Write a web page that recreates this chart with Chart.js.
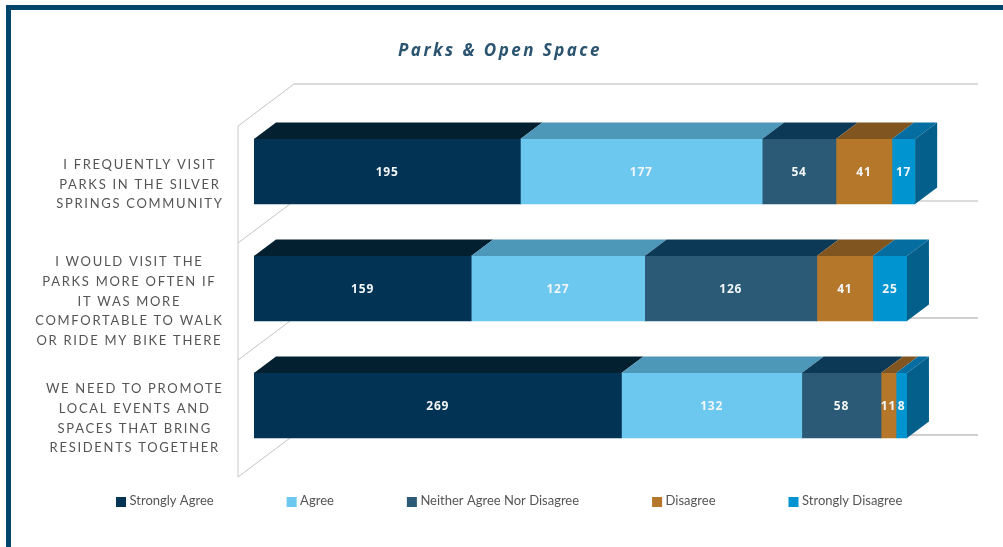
<!DOCTYPE html>
<html>
<head>
<meta charset="utf-8">
<script src="https://cdn.jsdelivr.net/npm/chart.js@4"></script>
<style>
html,body{margin:0;padding:0;background:#fff;overflow:hidden}
#wrap{position:absolute;left:0;top:0;width:1003px;height:547px}
canvas{position:absolute;left:0;top:0}
#frame{position:absolute;left:6px;top:5px;right:0;bottom:0;border-left:5px solid #03466b;border-top:5px solid #03466b;pointer-events:none}
</style>
</head>
<body>
<div id="wrap"><canvas id="c" width="1003" height="547"></canvas><div id="frame"></div></div>
<script>
const titleText = "Parks & Open Space";
const categories = [
  ["I FREQUENTLY VISIT","PARKS IN THE SILVER","SPRINGS COMMUNITY"],
  ["I WOULD VISIT THE","PARKS MORE OFTEN IF","IT WAS MORE","COMFORTABLE TO WALK","OR RIDE MY BIKE THERE"],
  ["WE NEED TO PROMOTE","LOCAL EVENTS AND","SPACES THAT BRING","RESIDENTS TOGETHER"]
];
const seriesNames = ["Strongly Agree","Agree","Neither Agree Nor Disagree","Disagree","Strongly Disagree"];
const stronglyAgree = [195,159,269];
const agree = [177,127,132];
const neither = [54,126,58];
const disagree = [41,41,11];
const stronglyDisagree = [17,25,8];
const seriesValues = [stronglyAgree,agree,neither,disagree,stronglyDisagree];
const frontColors = ["#023354","#6cc8ee","#2a5a75","#b5772a","#0094d1"];
const topColors = ["#02202f","#4d97b8","#0c3a56","#80551f","#056da0"];
const sideColor = "#045f8a";
const DX = 22, DY = 16.5;

const scene = {
  id:"scene",
  beforeDatasetsDraw(chart){
    const c = chart.ctx, a = chart.chartArea;
    const band = (a.bottom-a.top)/categories.length;
    c.save();
    c.fillStyle="#fff"; c.fillRect(0,0,chart.width,chart.height);
    c.lineCap="butt";
    c.strokeStyle="#d2d2d2"; c.lineWidth=1.2;
    c.beginPath(); c.moveTo(a.left-16,a.top+13); c.lineTo(a.left-16,a.bottom+13); c.stroke();
    for(let i=0;i<=categories.length;i++){
      const y=a.top+band*i;
      c.strokeStyle="#c4c4c4"; c.lineWidth=1;
      c.beginPath(); c.moveTo(a.left-16,y+13); c.lineTo(a.left+40,y-29); c.stroke();
      c.strokeStyle = i<2 ? "#cfcfcf" : "#a0a0a0";
      c.lineWidth = i<2 ? 1.6 : 1;
      c.beginPath(); c.moveTo(a.left+40,y-29); c.lineTo(a.right,y-29); c.stroke();
    }
    c.restore();
  },
  afterDatasetsDraw(chart){
    const c = chart.ctx, n = seriesValues.length;
    c.save();
    for(let d=0;d<n;d++){
      chart.getDatasetMeta(d).data.forEach(el=>{
        const p = el.getProps(["x","y","base","height"],true);
        const t = p.y-p.height/2;
        c.fillStyle=topColors[d];
        c.beginPath();
        c.moveTo(p.base,t); c.lineTo(p.x,t); c.lineTo(p.x+DX,t-DY); c.lineTo(p.base+DX,t-DY);
        c.closePath(); c.fill();
        if(d===n-1){
          const b=t+p.height;
          c.fillStyle=sideColor;
          c.beginPath();
          c.moveTo(p.x,t); c.lineTo(p.x+DX,t-DY); c.lineTo(p.x+DX,b-DY); c.lineTo(p.x,b);
          c.closePath(); c.fill();
        }
      });
    }
    c.fillStyle="#f2f6f8"; c.textAlign="center"; c.textBaseline="middle";
    c.font='bold 12px "Noto Sans"'; c.letterSpacing="0.8px";
    for(let d=0;d<n;d++){
      chart.getDatasetMeta(d).data.forEach((el,j)=>{
        const p = el.getProps(["x","y","base"],true);
        c.fillText(String(seriesValues[d][j]),(p.x+p.base)/2,p.y+1);
      });
    }
    c.fillStyle="#555"; c.font='13px "Lato"'; c.letterSpacing="1.7px";
    const ys=chart.scales.y;
    categories.forEach((lines,i)=>{
      const w=Math.max(...lines.map(s=>c.measureText(s).width));
      const cx=223.5-w/2, cy=ys.getPixelForTick(i)+13, lh=19.7;
      lines.forEach((s,k)=>c.fillText(s,cx,cy+(k-(lines.length-1)/2)*lh));
    });
    c.fillStyle="#2b5470"; c.font='italic bold 17px "Noto Sans"'; c.letterSpacing="2.45px";
    c.fillText(titleText,500,51);
    c.font='13px "Lato"'; c.letterSpacing="0px"; c.textAlign="left";
    let x=116;
    seriesNames.forEach((s,i)=>{
      c.fillStyle=frontColors[i]; c.fillRect(x,497,10,10);
      c.fillStyle="#555"; c.fillText(s,x+13.5,501);
      x+=13.5+c.measureText(s).width+73;
    });
    c.restore();
  }
};

new Chart(document.getElementById("c"),{
  type:"bar",
  data:{
    labels:categories,
    datasets:seriesNames.map((s,i)=>({label:s,data:seriesValues[i],backgroundColor:frontColors[i],borderWidth:0,barThickness:65}))
  },
  options:{
    indexAxis:"y",responsive:false,animation:false,
    layout:{padding:{left:254,top:113,right:25,bottom:83}},
    plugins:{legend:{display:false},tooltip:{enabled:false},title:{display:false}},
    scales:{
      x:{stacked:true,min:0,max:530,display:false},
      y:{stacked:true,display:false}
    }
  },
  plugins:[scene]
});
</script>
</body>
</html>
